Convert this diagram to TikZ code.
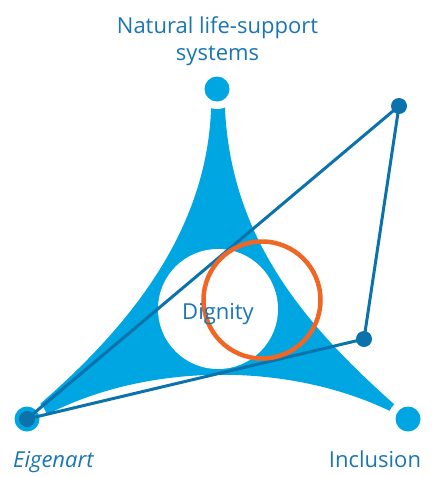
\documentclass[tikz,border=0pt]{standalone}
\usepackage{fontspec}
\setmainfont{Open Sans}
\definecolor{lblue}{RGB}{0,166,226}
\definecolor{dblue}{RGB}{11,114,172}
\definecolor{tblue}{RGB}{24,118,178}
\definecolor{dorange}{RGB}{240,102,36}
\begin{document}
\begin{tikzpicture}[x=1pt,y=-1pt,
  lbl/.style={text=tblue,font=\fontsize{22}{27}\selectfont,inner sep=0pt},
  gap/.style={fill=white,draw=none},
  ldot/.style={fill=lblue,draw=none},
  ddot/.style={fill=dblue,draw=none},
  link/.style={draw=dblue,line width=3pt}]
\useasboundingbox (0,0) rectangle (433,477);
% curved triangle
\fill[lblue] (211,92) -- (211,110) .. controls (206,235) and (125,330) .. (40,404)
  -- (22,419) -- (48,414) .. controls (150,362) and (290,362) .. (392,412)
  -- (410,419) -- (395,405) .. controls (305,325) and (232,240) .. (225,110)
  -- (225,92) -- cycle;
% dignity circle
\node[circle,fill=white,minimum size=120pt,inner sep=0pt] (dig) at (218,309) {};
% gaps and vertex dots
\fill[gap] (217,89) circle (20);
\fill[gap] (27,419) circle (20);
\fill[gap] (408,419) circle (20);
\node[circle,ldot,minimum size=25pt,inner sep=0pt] (top) at (217,89) {};
\node[circle,ldot,minimum size=25pt,inner sep=0pt] (bl) at (27,419) {};
\node[circle,ldot,minimum size=25pt,inner sep=0pt] (br) at (408,419) {};
% dark links
\node[circle,ddot,minimum size=16pt,inner sep=0pt] (tr) at (399,106) {};
\node[circle,ddot,minimum size=16pt,inner sep=0pt] (mr) at (364,339) {};
\node[circle,ddot,minimum size=16pt,inner sep=0pt] (blc) at (27,419) {};
\draw[link] (blc.center) -- (tr.center) -- (mr.center) -- (blc.center);
% orange circle
\node[circle,draw=dorange,line width=4.5pt,minimum size=117pt,inner sep=0pt] (or) at (262,300) {};
% labels
\node[lbl,anchor=base] (nat) at (217.5,33) {Natural life-support};
\node[lbl,anchor=base] (sys) at (217.5,60) {systems};
\node[lbl,anchor=base] (dtext) at (218,319) {Dignity};
\node[lbl,anchor=base west] (eig) at (13,467) {\itshape Eigenart};
\node[lbl,anchor=base] (inc) at (375,467) {Inclusion};
\end{tikzpicture}
\end{document}
